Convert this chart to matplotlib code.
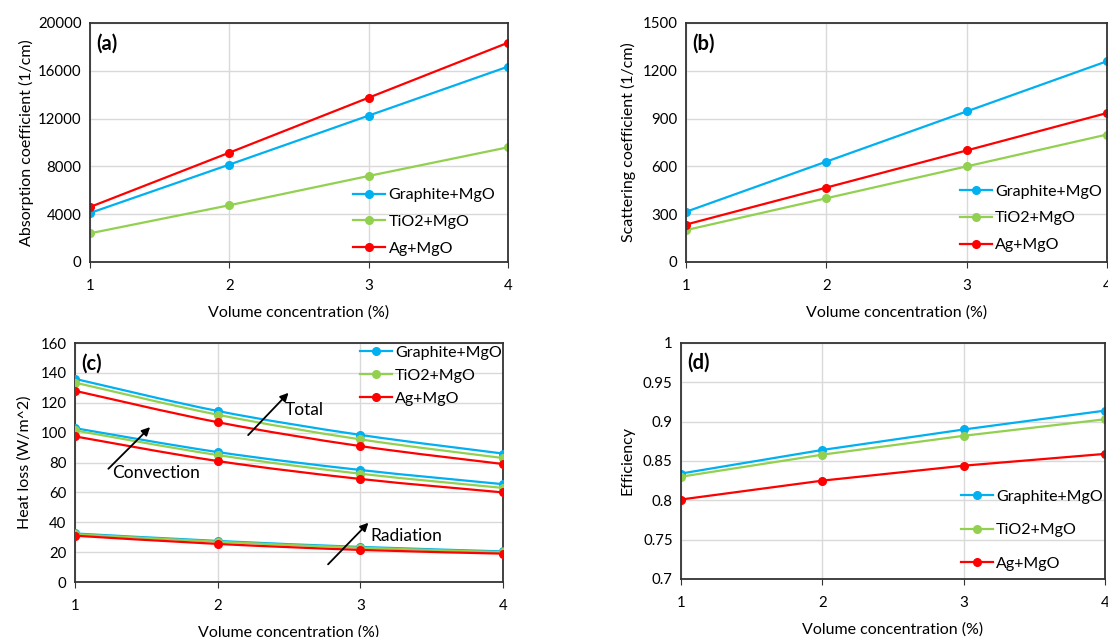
import matplotlib
matplotlib.use("Agg")
import matplotlib.pyplot as plt
import numpy as np
from matplotlib.path import Path
from matplotlib.patches import PathPatch
from matplotlib.lines import Line2D

plt.rcParams['font.family'] = ['Lato', 'DejaVu Sans']

conc = [1, 2, 3, 4]
names = ["Graphite+MgO", "TiO2+MgO", "Ag+MgO"]
colors = ["#00B0F0", "#92D050", "#FF0000"]

# (a) absorption coefficient (1/cm)
absorption = {
    "Graphite+MgO": [4100, 8150, 12250, 16350],
    "TiO2+MgO": [2400, 4750, 7200, 9600],
    "Ag+MgO": [4600, 9150, 13750, 18350],
}
# (b) scattering coefficient (1/cm)
scattering = {
    "Graphite+MgO": [315, 630, 945, 1260],
    "TiO2+MgO": [200, 400, 600, 800],
    "Ag+MgO": [235, 467, 700, 935],
}
# (c) heat loss (W/m^2)
total_loss = {
    "Graphite+MgO": [136, 114.5, 98.5, 86],
    "TiO2+MgO": [133.5, 112, 95.5, 83],
    "Ag+MgO": [128, 107, 91, 79],
}
convection_loss = {
    "Graphite+MgO": [103, 87, 75, 65.5],
    "TiO2+MgO": [101.5, 85, 72.5, 63],
    "Ag+MgO": [97.5, 81, 69, 60],
}
radiation_loss = {
    "Graphite+MgO": [32.5, 27.5, 23.5, 20.5],
    "TiO2+MgO": [32, 27, 23, 20],
    "Ag+MgO": [31, 25.5, 21.5, 19],
}
# (d) efficiency
efficiency = {
    "Graphite+MgO": [0.834, 0.864, 0.890, 0.914],
    "TiO2+MgO": [0.830, 0.858, 0.882, 0.903],
    "Ag+MgO": [0.801, 0.825, 0.844, 0.859],
}

LW = 1.6
MS = 5.5


def smooth_line(ax, x, y, color):
    # Excel-style smoothed line: Catmull-Rom drawn as cubic Bezier segments
    x = np.asarray(x, float)
    y = np.asarray(y, float)
    px = np.concatenate([[x[0]], x, [x[-1]]])
    py = np.concatenate([[y[0]], y, [y[-1]]])
    verts = [(x[0], y[0])]
    codes = [Path.MOVETO]
    for i in range(1, len(x)):
        c1 = (px[i] + (px[i + 1] - px[i - 1]) / 6, py[i] + (py[i + 1] - py[i - 1]) / 6)
        c2 = (px[i + 1] - (px[i + 2] - px[i]) / 6, py[i + 1] - (py[i + 2] - py[i]) / 6)
        verts += [c1, c2, (x[i], y[i])]
        codes += [Path.CURVE4] * 3
    ax.add_patch(PathPatch(Path(verts, codes), fill=False, edgecolor=color, lw=LW, zorder=3))
    ax.plot(x, y, 'o', color=color, ms=MS, zorder=4)


def style_axes(ax, ylim, yticks, ylabel, ylabelpad, tag):
    ax.set_xlim(1, 4)
    ax.set_ylim(*ylim)
    ax.set_xticks(conc)
    ax.set_yticks(yticks)
    ax.grid(True, color="#d9d9d9", lw=1)
    ax.set_axisbelow(True)
    for s in ax.spines.values():
        s.set_color("#333333")
        s.set_linewidth(1.3)
    ax.tick_params(axis='x', direction='out', length=4, pad=8, labelsize=10.8, color="#333333")
    ax.tick_params(axis='y', direction='in', length=0, pad=6, labelsize=10.8)
    ax.set_xlabel("Volume concentration (%)", fontsize=11.5, labelpad=9)
    ax.set_ylabel(ylabel, fontsize=11.5, labelpad=ylabelpad)
    ax.text(0.015, 0.915, tag, transform=ax.transAxes, fontsize=14.5, fontweight='bold',
            va='center', ha='left')


def add_legend(ax, loc, anchor, spacing):
    handles = [Line2D([], [], color=c, lw=LW, marker='o', ms=MS) for c in colors]
    ax.legend(handles, names, loc=loc, bbox_to_anchor=anchor, frameon=False,
              fontsize=11.5, labelspacing=spacing, handlelength=2.0, handletextpad=0.2,
              borderpad=0, borderaxespad=0)


fig = plt.figure(figsize=(11.08, 6.37), dpi=100)
ax_a = fig.add_axes([0.0812, 0.5887, 0.3773, 0.3752])
ax_b = fig.add_axes([0.6191, 0.5887, 0.3800, 0.3752])
ax_c = fig.add_axes([0.0677, 0.0863, 0.3863, 0.3752])
ax_d = fig.add_axes([0.6146, 0.0911, 0.3827, 0.3705])

# (a)
for n, c in zip(names, colors):
    ax_a.plot(conc, absorption[n], '-o', color=c, lw=LW, ms=MS)
style_axes(ax_a, (0, 20000), range(0, 20001, 4000), "Absorption coefficient (1/cm)", 3, "(a)")
add_legend(ax_a, 'lower left', (0.63, 0.025), 0.8)

# (b)
for n, c in zip(names, colors):
    ax_b.plot(conc, scattering[n], '-o', color=c, lw=LW, ms=MS)
style_axes(ax_b, (0, 1500), range(0, 1501, 300), "Scattering coefficient (1/cm)", 5, "(b)")
add_legend(ax_b, 'lower left', (0.65, 0.04), 0.8)

# (c)
for group in (total_loss, convection_loss, radiation_loss):
    for n, c in zip(names, colors):
        smooth_line(ax_c, conc, group[n], c)
style_axes(ax_c, (0, 160), range(0, 161, 20), "Heat loss (W/m^2)", 6, "(c)")
add_legend(ax_c, 'upper left', (0.665, 0.99), 0.55)

arrow = dict(arrowstyle='-|>', color='black', lw=1.3, mutation_scale=12)
ax_c.annotate("", xy=(1.54, 105), xytext=(1.22, 74.5), arrowprops=arrow)
ax_c.annotate("", xy=(2.51, 128), xytext=(2.2, 97), arrowprops=arrow)
ax_c.annotate("", xy=(3.07, 41), xytext=(2.76, 10.5), arrowprops=arrow)
ax_c.text(1.26, 73, "Convection", fontsize=12.5, va='center', ha='left')
ax_c.text(2.47, 115, "Total", fontsize=12.5, va='center', ha='left')
ax_c.text(3.07, 31, "Radiation", fontsize=12.5, va='center', ha='left')

# (d)
for n, c in zip(names, colors):
    ax_d.plot(conc, efficiency[n], '-o', color=c, lw=LW, ms=MS)
style_axes(ax_d, (0.7, 1.0), [0.7, 0.75, 0.8, 0.85, 0.9, 0.95, 1.0], "Efficiency", 6, "(d)")
ax_d.set_yticklabels(["0.7", "0.75", "0.8", "0.85", "0.9", "0.95", "1"])
add_legend(ax_d, 'lower left', (0.66, 0.035), 1.2)

fig.savefig("out.png", dpi=100)
